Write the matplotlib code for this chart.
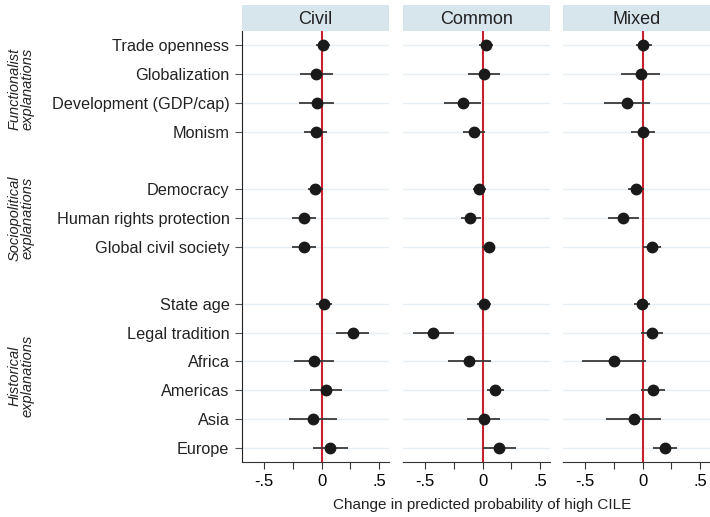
import matplotlib
matplotlib.use("Agg")
import matplotlib.pyplot as plt
import numpy as np

plt.rcParams['font.family'] = ['Liberation Sans', 'DejaVu Sans']

# rows from top to bottom; None = blank gap between groups
rows = ["Trade openness", "Globalization", "Development (GDP/cap)", "Monism", None,
        "Democracy", "Human rights protection", "Global civil society", None,
        "State age", "Legal tradition", "Africa", "Americas", "Asia", "Europe"]

panels = ["Civil", "Common", "Mixed"]

# point estimates (13 variables, same order as rows without the gaps)
civil_est = [0.012, -0.046, -0.040, -0.052, -0.055, -0.155, -0.155,
             0.020, 0.270, -0.066, 0.040, -0.072, 0.075]
civil_lo = [-0.052, -0.190, -0.195, -0.152, -0.118, -0.260, -0.260,
            -0.046, 0.126, -0.240, -0.103, -0.280, -0.075]
civil_hi = [0.075, 0.098, 0.106, 0.043, 0.011, -0.046, -0.046,
            0.089, 0.414, 0.106, 0.178, 0.138, 0.230]

common_est = [0.029, 0.015, -0.172, -0.073, -0.029, -0.105, 0.052,
              0.015, -0.426, -0.114, 0.108, 0.009, 0.146]
common_lo = [-0.029, -0.125, -0.335, -0.172, -0.082, -0.190, -0.006,
             -0.047, -0.603, -0.303, 0.040, -0.134, 0.006]
common_hi = [0.087, 0.155, -0.012, 0.023, 0.029, -0.012, 0.110,
             0.073, -0.250, 0.073, 0.184, 0.152, 0.290]

mixed_est = [0.006, -0.014, -0.139, 0.003, -0.061, -0.168, 0.078,
             -0.009, 0.081, -0.249, 0.090, -0.078, 0.191]
mixed_lo = [-0.061, -0.183, -0.333, -0.099, -0.130, -0.300, 0.003,
            -0.075, -0.012, -0.522, -0.014, -0.316, 0.087]
mixed_hi = [0.078, 0.154, 0.067, 0.110, 0.014, -0.032, 0.157,
            0.061, 0.180, 0.029, 0.197, 0.162, 0.301]

groups = [("Functionalist\nexplanations", 0, 3),
          ("Sociopolitical\nexplanations", 5, 7),
          ("Historical\nexplanations", 9, 14)]

data = [(civil_est, civil_lo, civil_hi),
        (common_est, common_lo, common_hi),
        (mixed_est, mixed_lo, mixed_hi)]

ypos = [i for i, r in enumerate(rows) if r is not None]
labels = [r for r in rows if r is not None]

W, H = 710, 517
fig = plt.figure(figsize=(7.1, 5.17), dpi=100)

lefts = [242, 403, 563]
pw = 147
top, bottom = 31, 462
strip_top = 5

red = "#c8202f"
grid_c = "#e4eef4"
strip_c = "#d7e5ed"

for k, (name, (est, lo, hi)) in enumerate(zip(panels, data)):
    ax = fig.add_axes([lefts[k] / W, 1 - bottom / H, pw / W, (bottom - top) / H])
    ax.set_xlim(-0.69, 0.585)
    ax.set_ylim(len(rows) - 0.5, -0.5)
    for y in ypos:
        ax.axhline(y, color=grid_c, lw=1.0, zorder=0)
    ax.axvline(0, color=red, lw=1.5, zorder=1)
    ax.hlines(ypos, lo, hi, color="#3a3a3a", lw=1.3, zorder=2)
    ax.plot(est, ypos, 'o', color="#1a1a1a", ms=7.5, zorder=3)

    ax.set_xticks([-0.5, 0, 0.5])
    ax.set_xticklabels(["-.5", "0", ".5"], fontsize=12)
    ax.set_xticks([-0.25, 0.25], minor=True)
    ax.tick_params(axis='x', which='both', direction='out', length=5, width=0.8,
                   color="#333333", pad=4)
    for s in ["top", "right"]:
        ax.spines[s].set_visible(False)
    ax.spines["bottom"].set_color("#333333")
    if k == 0:
        ax.set_yticks(ypos)
        ax.set_yticklabels(labels, fontsize=11.7, color="#222222")
        ax.tick_params(axis='y', direction='out', length=5, width=0.8,
                       color="#555555", pad=4)
        ax.spines["left"].set_color("#222222")
    else:
        ax.set_yticks([])
        ax.spines["left"].set_visible(False)

    # panel header strip
    sax = fig.add_axes([lefts[k] / W, 1 - top / H, pw / W, (top - strip_top) / H])
    sax.set_facecolor(strip_c)
    sax.set_xticks([])
    sax.set_yticks([])
    for s in sax.spines.values():
        s.set_visible(False)
    sax.text(0.5, 0.45, name, ha='center', va='center', fontsize=13,
             color="#222222", transform=sax.transAxes)

# group labels on the far left
for text, a, b in groups:
    yc = (a + b) / 2
    ypix = top + (yc + 0.5) / len(rows) * (bottom - top)
    fig.text(21 / W, 1 - ypix / H, text, rotation=90, ha='center', va='center',
             fontsize=10.5, style='italic', color="#222222", linespacing=0.95)

fig.text(482 / W, 1 - 505 / H, "Change in predicted probability of high CILE",
         ha='center', va='center', fontsize=11, color="#222222")

fig.savefig("out.png", dpi=100)
